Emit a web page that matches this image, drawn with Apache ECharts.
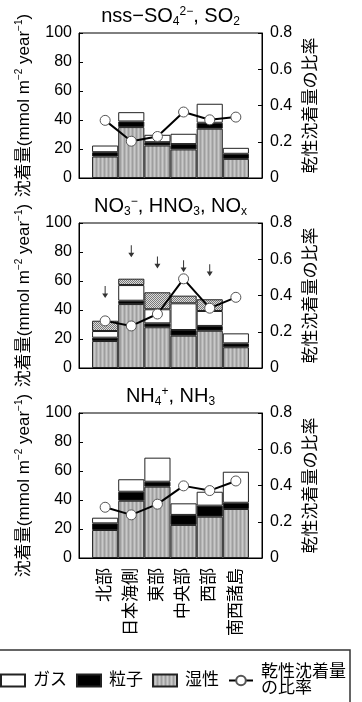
<!DOCTYPE html>
<html>
<head>
<meta charset="utf-8">
<script src="https://cdn.jsdelivr.net/npm/echarts@6/dist/echarts.min.js"></script>
<style>
  html, body { margin: 0; padding: 0; background: #fff; }
  #chart { width: 362px; height: 702px; }
</style>
</head>
<body>
<div id="chart"></div>
<script>
const regions = ['北部', '日本海側', '東部', '中央部', '西部', '南西諸島']

// nss-SO4 2-, SO2  (mmol m-2 year-1)
const so4Wet = [14.8, 35.1, 22.4, 19.7, 34.0, 13.2]
const so4Particle = [3.0, 3.9, 2.3, 3.7, 4.1, 3.5]
const so4Gas = [4.6, 6.4, 5.1, 7.1, 13.1, 4.1]
const so4Ratio = [0.318, 0.203, 0.229, 0.364, 0.321, 0.336]

// NO3-, HNO3, NOx
const no3Wet = [18.6, 44.1, 28.1, 22.3, 25.7, 14.3]
const no3Particle = [2.3, 2.3, 2.7, 3.9, 3.3, 2.7]
const no3Gas = [4.6, 10.8, 9.7, 18.4, 10.3, 6.9]
const no3Extra = [7.1, 4.4, 11.7, 5.3, 8.1, 0]
const no3Ratio = [0.26, 0.232, 0.298, 0.492, 0.33, 0.39]
const no3Arrow = [52.4, 80.5, 72.8, 70.2, 67.5, null]

// NH4+, NH3
const nh4Wet = [19.3, 39.5, 49.2, 22.8, 28.5, 33.8]
const nh4Particle = [4.6, 6.2, 3.4, 6.9, 7.6, 4.3]
const nh4Gas = [3.9, 8.6, 16.6, 8.0, 9.6, 21.4]
const nh4Ratio = [0.28, 0.238, 0.297, 0.398, 0.372, 0.425]

const leftTicks = [0, 100, 20]
const rightTicks = [0, 0.8, 0.2]

const FONT = "'Liberation Sans', 'Noto Sans CJK JP', sans-serif"
const RATIO_NAME = '乾性沈着量\nの比率'

// half-empty slots on both ends so bars sit half a bar in from the frame
const categories = ['', ...regions, '']
const pad = arr => [null, ...arr, null]

function stripePattern() {
  const c = document.createElement('canvas')
  c.width = 4; c.height = 4
  const g = c.getContext('2d')
  g.fillStyle = '#b4b4b4'; g.fillRect(0, 0, 4, 4)
  g.fillStyle = '#9e9e9e'; g.fillRect(0, 0, 1, 4)
  g.fillStyle = '#c9c9c9'; g.fillRect(2, 0, 1, 4)
  return { image: c, repeat: 'repeat' }
}

function checkPattern() {
  const c = document.createElement('canvas')
  c.width = 2; c.height = 2
  const g = c.getContext('2d')
  g.fillStyle = '#dcdcdc'; g.fillRect(0, 0, 2, 2)
  g.fillStyle = '#7a7a7a'; g.fillRect(0, 0, 1, 1); g.fillRect(1, 1, 1, 1)
  return { image: c, repeat: 'repeat' }
}

const wetFill = stripePattern()
const extraFill = checkPattern()

const panels = [
  { title: 'nss−SO{sub|4}{sup|2−}, SO{sub|2}', wet: so4Wet, particle: so4Particle, gas: so4Gas, ratio: so4Ratio },
  { title: 'NO{sub|3}{sup|−}, HNO{sub|3}, NO{sub|x}', wet: no3Wet, particle: no3Particle, gas: no3Gas, extra: no3Extra, ratio: no3Ratio, arrows: no3Arrow },
  { title: 'NH{sub|4}{sup|+}, NH{sub|3}', wet: nh4Wet, particle: nh4Particle, gas: nh4Gas, ratio: nh4Ratio },
]

const gridTops = [33, 223, 413]
const GRID_LEFT = 79
const GRID_W = 183
const GRID_H = 145

const titleRich = {
  sub: { fontSize: 12, fontFamily: FONT, color: '#000', verticalAlign: 'bottom', lineHeight: 12 },
  sup: { fontSize: 12, fontFamily: FONT, color: '#000', verticalAlign: 'top', lineHeight: 12, padding: [2, 0, 0, 0] },
}

const barBorder = { borderColor: '#222', borderWidth: 1 }

const grids = [], xAxes = [], yAxes = [], series = [], titles = []

panels.forEach((p, i) => {
  grids.push({
    left: GRID_LEFT, top: gridTops[i], width: GRID_W, height: GRID_H,
    show: true, borderColor: '#000', borderWidth: 1, backgroundColor: 'transparent',
  })
  titles.push({
    text: p.title,
    left: GRID_LEFT + GRID_W / 2,
    top: gridTops[i] - 29,
    textAlign: 'center',
    padding: 0,
    textStyle: { fontSize: 20, fontWeight: 'normal', fontFamily: FONT, color: '#000', lineHeight: 24, rich: titleRich },
  })
  xAxes.push({
    type: 'category', gridIndex: i, data: categories, boundaryGap: false,
    axisLine: { lineStyle: { color: '#000', width: 1 } },
    axisTick: { show: false },
    axisLabel: {
      show: i === 2, rotate: 90, interval: 0, margin: 10,
      fontSize: 17, fontFamily: FONT, color: '#000',
    },
  })
  yAxes.push({
    type: 'value', gridIndex: i, position: 'left',
    min: leftTicks[0], max: leftTicks[1], interval: leftTicks[2],
    name: '沈着量(mmol m{sup|−2} year{sup|−1})',
    nameLocation: 'middle', nameGap: 44,
    nameTextStyle: {
      fontSize: 17, fontFamily: FONT, color: '#000', lineHeight: 20,
      rich: { sup: { fontSize: 10, fontFamily: FONT, color: '#000', verticalAlign: 'top', lineHeight: 10 } },
    },
    axisLine: { show: true, lineStyle: { color: '#000' } },
    axisTick: { show: true, inside: true, length: 4, lineStyle: { color: '#000' } },
    axisLabel: { fontSize: 16, fontFamily: FONT, color: '#000', margin: 7 },
    splitLine: { show: false },
  })
  yAxes.push({
    type: 'value', gridIndex: i, position: 'right',
    min: rightTicks[0], max: rightTicks[1], interval: rightTicks[2],
    name: '乾性沈着量の比率',
    nameLocation: 'middle', nameGap: 33, nameRotate: 90,
    nameTextStyle: { fontSize: 17, fontFamily: FONT, color: '#000' },
    axisLine: { show: true, lineStyle: { color: '#000' } },
    axisTick: { show: true, inside: true, length: 4, lineStyle: { color: '#000' } },
    axisLabel: {
      fontSize: 16, fontFamily: FONT, color: '#000', margin: 8,
      formatter: v => (v === 0 ? '0' : v.toFixed(1)),
    },
    splitLine: { show: false },
  })

  const stack = 'dep' + i
  const barBase = { type: 'bar', xAxisIndex: i, yAxisIndex: 2 * i, stack, barCategoryGap: '0%' }
  series.push({ ...barBase, name: '湿性', data: pad(p.wet), itemStyle: { color: wetFill, ...barBorder } })
  series.push({ ...barBase, name: '粒子', data: pad(p.particle), itemStyle: { color: '#000', ...barBorder } })
  series.push({ ...barBase, name: 'ガス', data: pad(p.gas), itemStyle: { color: '#fff', ...barBorder } })
  if (p.extra) {
    series.push({
      ...barBase, name: 'HNO3',
      data: pad(p.extra.map(v => (v > 0 ? v : null))),
      itemStyle: { color: extraFill, ...barBorder },
    })
  }
  series.push({
    type: 'line', name: RATIO_NAME, xAxisIndex: i, yAxisIndex: 2 * i + 1,
    data: pad(p.ratio), z: 5,
    lineStyle: { color: '#000', width: 2 },
    symbol: 'circle', symbolSize: 10,
    itemStyle: { color: '#fff', borderColor: '#555', borderWidth: 1 },
  })
  if (p.arrows) {
    series.push({
      type: 'scatter', name: 'arrow', xAxisIndex: i, yAxisIndex: 2 * i,
      data: pad(p.arrows), z: 6,
      symbol: 'path://M3.5,0 L4.5,0 L4.5,8 L7,8 L4,13 L1,8 L3.5,8 Z',
      symbolSize: [6, 12],
      itemStyle: { color: '#000' },
    })
  }
})

const chart = echarts.init(document.getElementById('chart'), null, { renderer: 'canvas' })
chart.setOption({
  animation: false,
  backgroundColor: '#fff',
  textStyle: { fontFamily: FONT },
  title: titles,
  grid: grids,
  xAxis: xAxes,
  yAxis: yAxes,
  series,
  legend: {
    data: [
      { name: 'ガス', icon: 'rect' },
      { name: '粒子', icon: 'rect' },
      { name: '湿性', icon: 'rect' },
      { name: RATIO_NAME },
    ],
    left: 0, top: 664, padding: 0,
    itemWidth: 24, itemHeight: 12, itemGap: 9,
    selectedMode: false,
    textStyle: { fontSize: 17, fontFamily: FONT, color: '#000', padding: [0, 0, 0, 3], lineHeight: 16 },
  },
  graphic: [{
    type: 'rect',
    shape: { x: -1, y: 650, width: 351, height: 60 },
    style: { fill: 'none', stroke: '#333', lineWidth: 1.5 },
  }],
})
</script>
</body>
</html>
